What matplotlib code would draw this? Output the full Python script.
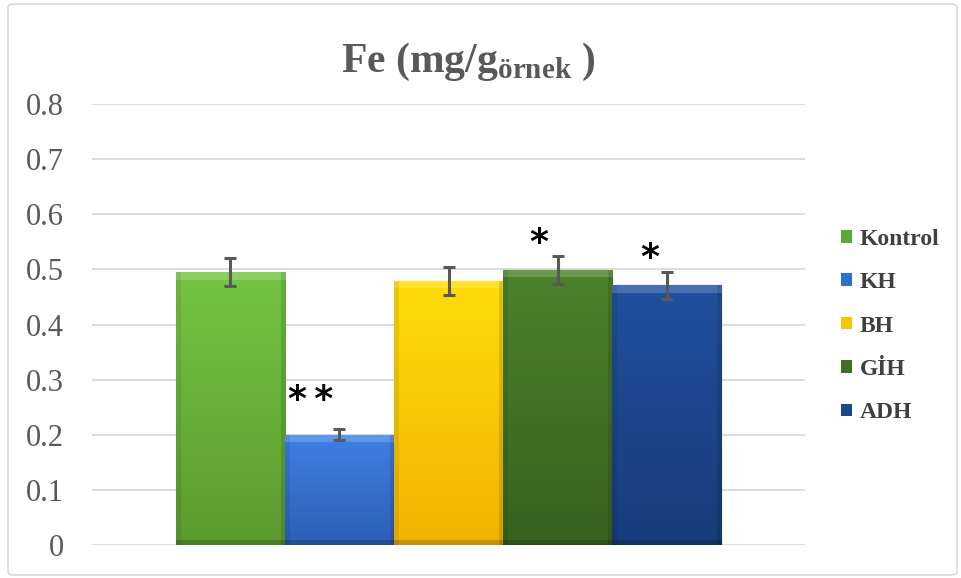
import numpy as np
import matplotlib.pyplot as plt
from matplotlib.patches import Patch, FancyBboxPatch
from matplotlib.colors import to_rgb

groups = ["Kontrol", "KH", "BH", "GİH", "ADH"]
fe_values = [0.495, 0.200, 0.479, 0.499, 0.471]
fe_errors = [0.025, 0.010, 0.025, 0.025, 0.024]
signif = ["", "*\u2009*", "", "*", "*"]

top_colors = ["#74c442", "#3f80e4", "#ffdc0a", "#4c822c", "#21509e"]
bottom_colors = ["#5b9b30", "#2c5fb5", "#f1b400", "#38621f", "#173c7a"]
legend_colors = ["#5fa835", "#2f6fd0", "#f6c400", "#3f6f25", "#1d4689"]

plt.rcParams['mathtext.fontset'] = 'custom'
plt.rcParams['mathtext.bf'] = 'Liberation Serif:bold'
plt.rcParams['mathtext.rm'] = 'Liberation Serif:bold'

grey = "#595959"


def shade_bar(ax, bar, top, bottom):
    # vertical gradient with a small bevel, clipped to the bar
    x, y = bar.get_x(), bar.get_y()
    w, h = bar.get_width(), bar.get_height()
    ny, nx = max(int(h * 550), 4), 110
    t = np.linspace(1, 0, ny)[:, None, None]
    top, bottom = np.array(to_rgb(top)), np.array(to_rgb(bottom))
    img = bottom + (top - bottom) * t
    img = np.repeat(img, nx, axis=1)
    img[:8] = img[:8] * 0.82 + 0.18
    img[-5:] *= 0.82
    img[:, :5] *= 0.92
    img[:, -5:] *= 0.88
    im = ax.imshow(np.clip(img, 0, 1), extent=[x, x + w, y, y + h],
                   aspect='auto', zorder=2.1, interpolation='bilinear')
    im.set_clip_path(bar)


fig = plt.figure(figsize=(9.61, 5.78), dpi=100)
ax = fig.add_axes([92 / 961, 33 / 578, 713 / 961, 441 / 578])

xpos = np.arange(len(groups))
bars = ax.bar(xpos, fe_values, width=1.0, color=legend_colors,
              edgecolor=bottom_colors, linewidth=0.8, zorder=2)
for bar, tc, bc in zip(bars, top_colors, bottom_colors):
    shade_bar(ax, bar, tc, bc)

ax.errorbar(xpos, fe_values, yerr=fe_errors, fmt='none', ecolor=grey,
            elinewidth=2.2, capsize=4.5, capthick=2.2, zorder=4)

# significance marks
star_dx = [0, -0.26, 0, -0.17, -0.16]
star_dy = [0, 0.053, 0, 0.023, 0.026]
for i, s in enumerate(signif):
    if s:
        ax.text(xpos[i] + star_dx[i], fe_values[i] + fe_errors[i] + star_dy[i], s,
                ha='center', va='center', fontsize=26, fontweight='bold',
                family='DejaVu Sans', color='black', zorder=5)

ax.set_xlim(-0.5 - 0.765, len(groups) - 0.5 + 0.765)
ax.set_ylim(0, 0.8)
yticks = np.round(np.arange(0, 0.81, 0.1), 1)
ax.set_yticks(yticks)
ax.set_yticklabels([f"{t:g}" for t in yticks], family='Liberation Serif',
                   fontsize=22, color=grey)
ax.set_xticks([])
ax.tick_params(axis='y', length=0, pad=20)
for sp in ax.spines.values():
    sp.set_visible(False)
ax.yaxis.grid(True, color='#d9d9d9', linewidth=1.3, zorder=0)
ax.set_axisbelow(True)

fig.text(468 / 961, 1 - 62 / 578, r"Fe (mg/g$_{\mathbf{örnek}}$ )",
         ha='center', va='center', fontsize=30, fontweight='bold',
         family='Liberation Serif', color=grey)

handles = [Patch(facecolor=c, edgecolor='none') for c in legend_colors]
leg = fig.legend(handles, groups, loc='center left',
                 bbox_to_anchor=(841 / 961, 1 - 326 / 578),
                 frameon=False, borderpad=0, borderaxespad=0,
                 handlelength=0.45, handleheight=0.45, handletextpad=0.35,
                 labelspacing=0.95,
                 prop={'family': 'Liberation Serif', 'weight': 'bold', 'size': 17})
for txt in leg.get_texts():
    txt.set_color('#404040')

fig.patches.append(FancyBboxPatch((8 / 961, 3 / 578), 949 / 961, 571 / 578,
                                  boxstyle='round,pad=0,rounding_size=0.006',
                                  transform=fig.transFigure, facecolor='none',
                                  edgecolor='#d9d9d9', linewidth=1.2))

fig.savefig("out.png", dpi=100)
